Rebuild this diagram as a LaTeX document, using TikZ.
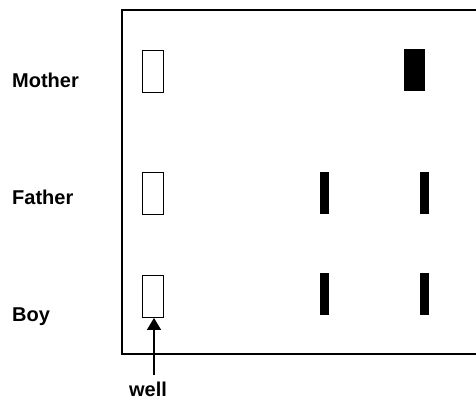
\documentclass[tikz,border=0pt]{standalone}
\usepackage{fontspec}
\setmainfont{Liberation Sans}
\usetikzlibrary{arrows.meta}
\begin{document}
\begin{tikzpicture}[x=1pt,y=-1pt,
  frame/.style={line width=1.8pt},
  wellbox/.style={draw,line width=1.4pt,inner sep=0pt,minimum width=21pt,minimum height=42pt,anchor=north west},
  bandbox/.style={fill=black,inner sep=0pt,minimum width=#1,minimum height=42pt,anchor=north west},
  rowlabel/.style={anchor=base west,inner sep=0pt,font=\bfseries\fontsize{20}{24}\selectfont},
  welllabel/.style={anchor=base,inner sep=0pt,font=\bfseries\fontsize{20}{24}\selectfont}]
\useasboundingbox (0,0) rectangle (476,399);
% frame
\draw[frame] (476,10) -- (122,10) -- (122,354) -- (476,354);
% labels
\node[rowlabel] (lm) at (12,87) {Mother};
\node[rowlabel] (lf) at (12,204) {Father};
\node[rowlabel] (lb) at (12,321) {Boy};
% wells
\node[wellbox] (wm) at (142,49.5) {};
\node[wellbox] (wf) at (142,172) {};
\node[wellbox] (wb) at (142,274.5) {};
% bands
\node[bandbox=21pt] (bm) at (404,49) {};
\node[bandbox=9pt] (bf1) at (320,172) {};
\node[bandbox=9pt] (bf2) at (420,172) {};
\node[bandbox=9pt] (bb1) at (320,273) {};
\node[bandbox=9pt] (bb2) at (420,273) {};
% arrow
\node[welllabel] (wl) at (148,396) {well};
\coordinate (as) at (154,375);
\draw[line width=1.5pt,-{Triangle[width=14pt,length=12pt]}] (as) -- (wb.south -| as);
\end{tikzpicture}
\end{document}
